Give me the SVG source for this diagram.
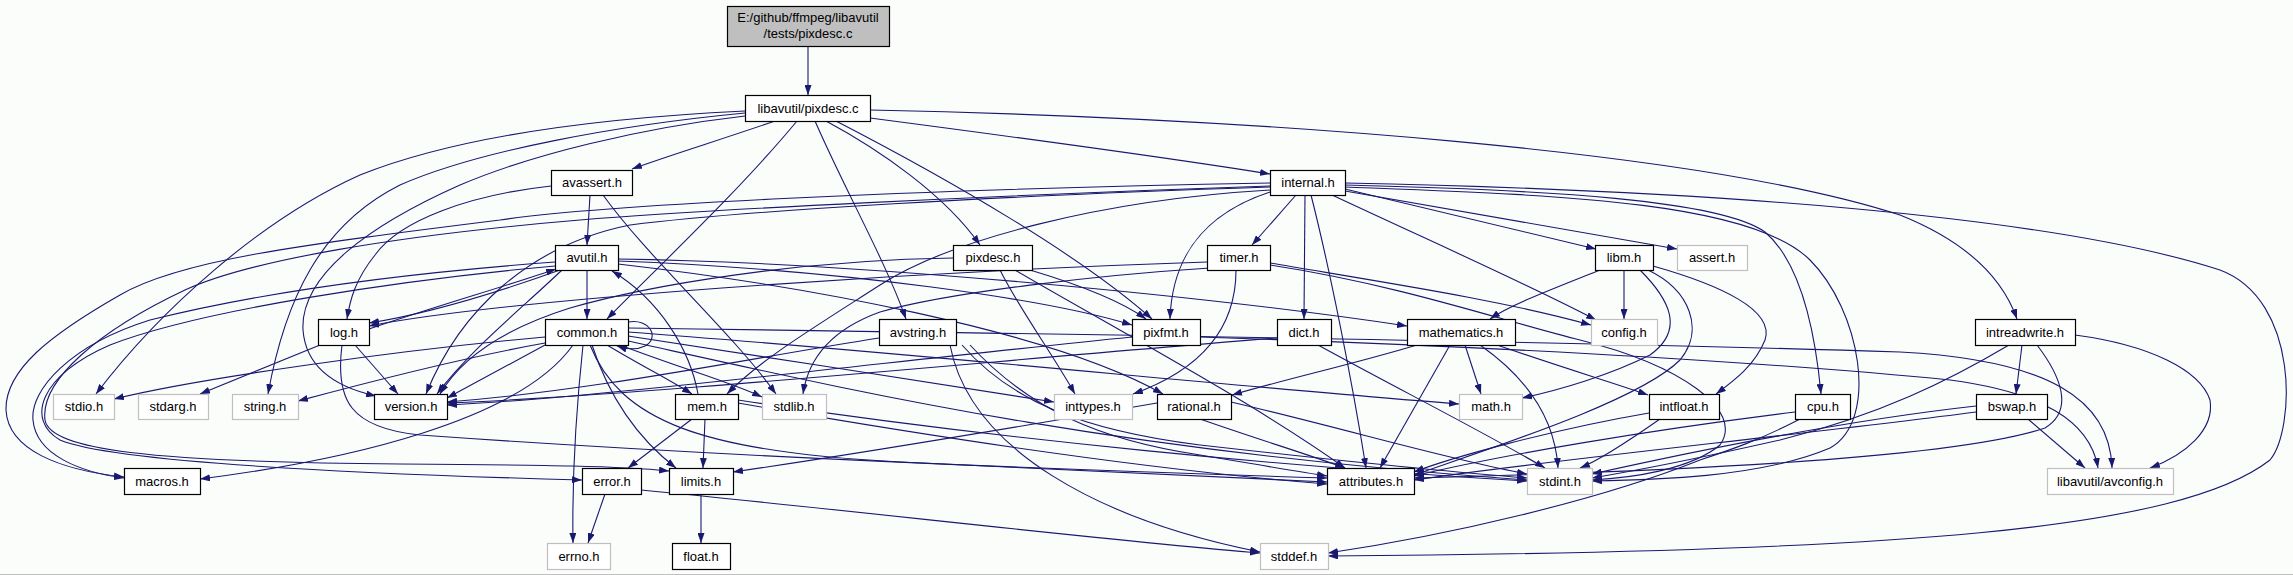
<svg xmlns="http://www.w3.org/2000/svg" width="2293" height="575" viewBox="0 0 2293 575">
<style>
.e{fill:none;stroke:#191970;stroke-width:1.1;marker-end:url(#a)}
.n rect{fill:#ffffff;stroke:#000000;stroke-width:1.2}
.g rect{fill:#ffffff;stroke:#bfbfbf;stroke-width:1.2}
.r rect{fill:#bfbfbf;stroke:#000000;stroke-width:1.2}
text{font-family:"Liberation Sans",Arial,sans-serif;font-size:13px;fill:#000;text-anchor:middle}
</style>
<defs>
<marker id="a" markerUnits="userSpaceOnUse" markerWidth="10" markerHeight="7" refX="10" refY="3.5" orient="auto" viewBox="0 0 10 7">
<path d="M0,0 L10,3.5 L0,7 z" fill="#191970"/>
</marker>
</defs>
<rect x="0" y="0" width="2293" height="575" fill="#fbfdfb"/>
<line x1="0" y1="574.5" x2="2293" y2="574.5" stroke="#c0c0c0" stroke-width="1"/>
<g id="edges">
<path class="e" d="M808,46 L808,95"/>
<path class="e" d="M745,111 C600,118 460,135 360,175 C260,220 160,310 96,394"/>
<path class="e" d="M745,113 C620,125 480,150 400,185 C320,225 285,300 268,394"/>
<path class="e" d="M775,121 C720,140 670,155 632,169"/>
<path class="e" d="M815,121 C845,190 885,260 906,319"/>
<path class="e" d="M797,121 C740,190 660,265 607,319"/>
<path class="e" d="M836,121 C950,180 1080,255 1152,319"/>
<path class="e" d="M826,121 C880,150 945,195 980,245"/>
<path class="e" d="M870,118 C1000,135 1150,155 1270,174"/>
<path class="e" d="M870,110 C1250,118 1700,150 1900,215 C1975,245 2005,285 2017,319"/>
<path class="e" d="M745,116 C640,128 530,155 460,185 C370,225 300,275 303,330 C306,370 340,388 376,396"/>
<path class="e" d="M603,195 C650,260 730,330 776,394"/>
<path class="e" d="M590,195 L587,245"/>
<path class="e" d="M551,186 C470,195 400,220 375,255 C355,280 350,300 347,319"/>
<path class="e" d="M587,270 L587,319"/>
<path class="e" d="M555,266 C400,280 200,310 110,345 C40,375 25,420 60,440 C120,465 400,475 582,480"/>
<path class="e" d="M618,264 C800,285 1050,330 1163,394"/>
<path class="e" d="M562,270 C520,310 470,350 437,394"/>
<path class="e" d="M555,262 C380,275 250,295 150,320 C70,345 30,390 33,420 C36,455 80,472 124,478"/>
<path class="e" d="M618,259 C850,262 1200,295 1407,326"/>
<path class="e" d="M560,270 C490,295 420,315 369,323"/>
<path class="e" d="M369,329 C440,305 510,285 556,269"/>
<path class="e" d="M618,261 C850,270 1050,300 1132,325"/>
<path class="e" d="M320,345 L200,394"/>
<path class="e" d="M355,345 L398,394"/>
<path class="e" d="M342,345 C335,400 350,428 420,435 C700,455 1000,468 1327,478"/>
<path class="e" d="M583,345 C575,420 572,480 573,543"/>
<path class="e" d="M628,336 C750,355 950,385 1054,402"/>
<path class="e" d="M592,345 C610,400 640,440 676,468"/>
<path class="e" d="M628,332 C900,352 1250,388 1459,404"/>
<path class="e" d="M628,341 C850,390 1100,450 1527,480"/>
<path class="e" d="M545,337 C400,350 200,378 114,399"/>
<path class="e" d="M620,345 C680,368 730,382 762,397"/>
<path class="e" d="M545,343 C450,360 350,387 298,401"/>
<path class="e" d="M590,345 C620,420 700,452 900,462 C1100,472 1250,478 1327,482"/>
<path class="e" d="M573,345 C520,420 350,460 200,479"/>
<path class="e" d="M545,345 L447,398"/>
<path class="e" d="M628,328 C1000,333 1600,342 1900,352 C2050,360 2110,400 2112,468"/>
<path class="e" d="M607,345 C640,365 670,380 692,394"/>
<path class="e" d="M628,322 C650,318 660,338 645,346 C637,350 626,349 617,346"/>
<path class="e" d="M705,419 L703,468"/>
<path class="e" d="M738,400 C1000,440 1300,468 1527,481"/>
<path class="e" d="M738,403 C950,440 1150,470 1327,484"/>
<path class="e" d="M692,419 L628,468"/>
<path class="e" d="M698,394 C690,350 660,300 612,271"/>
<path class="e" d="M605,494 L588,543"/>
<path class="e" d="M641,490 C850,510 1100,540 1260,553"/>
<path class="e" d="M701,494 L701,543"/>
<path class="e" d="M1015,270 C1100,320 1250,400 1345,468"/>
<path class="e" d="M1030,270 C1080,285 1120,300 1146,319"/>
<path class="e" d="M953,258 C800,260 650,285 570,308 C500,330 460,360 440,394"/>
<path class="e" d="M1000,270 C1020,310 1050,350 1075,394"/>
<path class="e" d="M1200,337 C1450,345 1750,360 1950,380 C2040,392 2090,420 2098,468"/>
<path class="e" d="M1132,337 C900,360 600,398 447,405"/>
<path class="e" d="M879,338 C750,358 600,390 447,402"/>
<path class="e" d="M950,345 C970,450 1100,520 1260,552"/>
<path class="e" d="M962,345 C1010,400 1080,430 1200,445 C1350,462 1450,472 1527,478"/>
<path class="e" d="M970,345 C1030,410 1100,440 1200,455 C1260,465 1300,472 1327,476"/>
<path class="e" d="M1270,186 C1000,195 700,210 580,220 C400,235 250,260 185,290 C100,330 40,380 45,420 C50,450 150,462 400,464 C550,465 620,466 669,471"/>
<path class="e" d="M1345,187 C1550,195 1750,200 1810,260 C1860,310 1880,420 1830,448 C1760,478 1650,480 1592,481"/>
<path class="e" d="M1345,183 C1700,190 2050,215 2220,270 C2300,300 2295,430 2270,460 C2180,530 1900,552 1328,556"/>
<path class="e" d="M1345,191 L1677,249"/>
<path class="e" d="M1332,195 C1450,250 1540,290 1596,320"/>
<path class="e" d="M1311,195 C1330,270 1352,380 1366,468"/>
<path class="e" d="M1296,195 L1252,245"/>
<path class="e" d="M1345,185 C1550,190 1720,200 1765,232 C1800,262 1815,330 1821,394"/>
<path class="e" d="M1305,195 L1304,319"/>
<path class="e" d="M1270,183 C900,190 600,205 500,220 C300,245 180,260 120,295 C50,335 5,370 6,410 C8,450 60,470 124,477"/>
<path class="e" d="M1270,190 C1100,200 950,240 880,285 C810,330 760,360 727,394"/>
<path class="e" d="M1270,192 C1200,215 1172,260 1170,319"/>
<path class="e" d="M1270,187 C1000,196 750,210 630,225 C530,245 460,310 426,394"/>
<path class="e" d="M1345,189 L1596,249"/>
<path class="e" d="M1210,268 C1100,275 950,292 880,312 C830,330 808,360 803,394"/>
<path class="e" d="M1236,270 C1236,330 1200,370 1133,394"/>
<path class="e" d="M1270,263 C1400,285 1500,300 1591,325"/>
<path class="e" d="M1207,262 C900,272 500,300 369,326"/>
<path class="e" d="M1270,265 C1400,285 1500,320 1580,340 C1680,365 1745,410 1720,445 C1690,470 1630,478 1592,480"/>
<path class="e" d="M1318,345 C1400,390 1480,430 1545,468"/>
<path class="e" d="M1277,338 C1000,360 650,395 447,403"/>
<path class="e" d="M1480,345 C1530,380 1555,420 1558,468"/>
<path class="e" d="M1465,345 L1481,394"/>
<path class="e" d="M1450,345 L1380,468"/>
<path class="e" d="M1417,345 C1350,365 1290,378 1232,395"/>
<path class="e" d="M1497,345 C1570,370 1620,385 1648,395"/>
<path class="e" d="M1231,402 C1350,430 1450,460 1527,474"/>
<path class="e" d="M1157,403 C1000,430 850,455 733,472"/>
<path class="e" d="M1200,419 C1260,440 1310,455 1345,468"/>
<path class="e" d="M1640,270 C1670,300 1685,330 1650,355 C1610,375 1560,390 1522,398"/>
<path class="e" d="M1624,270 L1624,319"/>
<path class="e" d="M1648,270 C1690,290 1705,330 1680,360 C1640,400 1500,445 1414,475"/>
<path class="e" d="M1653,266 C1720,285 1775,310 1765,340 C1755,365 1735,380 1716,394"/>
<path class="e" d="M1600,270 C1550,290 1510,305 1490,319"/>
<path class="e" d="M1660,419 C1630,440 1600,460 1580,468"/>
<path class="e" d="M1649,413 C1550,430 1450,458 1414,472"/>
<path class="e" d="M1795,412 C1650,430 1500,455 1414,476"/>
<path class="e" d="M1800,419 C1760,440 1730,450 1700,460 C1600,500 1450,535 1328,553"/>
<path class="e" d="M2009,345 C1950,380 1880,415 1780,440 C1700,458 1640,470 1592,478"/>
<path class="e" d="M2075,335 C2150,345 2200,370 2210,400 C2215,430 2185,455 2150,468"/>
<path class="e" d="M2022,345 L2016,394"/>
<path class="e" d="M2037,345 C2060,375 2075,410 2045,428 C1950,460 1650,472 1414,478"/>
<path class="e" d="M1976,406 C1850,420 1700,450 1592,474"/>
<path class="e" d="M2028,419 L2085,468"/>
<path class="e" d="M1976,412 C1800,435 1550,460 1414,480"/>
</g>
<g id="root" class="r"><rect x="727.5" y="6.5" width="162" height="40"/><text x="808" y="22">E:/github/ffmpeg/libavutil</text><text x="808" y="38">/tests/pixdesc.c</text></g>
<g id="pixdesc_c" class="n"><rect x="745.5" y="95.5" width="125" height="26"/><text x="808" y="113">libavutil/pixdesc.c</text></g>
<g id="avassert_h" class="n"><rect x="551.5" y="170.5" width="81" height="25"/><text x="592" y="187">avassert.h</text></g>
<g id="internal_h" class="n"><rect x="1270.5" y="170.5" width="75" height="25"/><text x="1308" y="187">internal.h</text></g>
<g id="avutil_h" class="n"><rect x="555.5" y="245.5" width="63" height="25"/><text x="587" y="262">avutil.h</text></g>
<g id="pixdesc_h" class="n"><rect x="953.5" y="245.5" width="79" height="25"/><text x="993" y="262">pixdesc.h</text></g>
<g id="timer_h" class="n"><rect x="1207.5" y="245.5" width="63" height="25"/><text x="1239" y="262">timer.h</text></g>
<g id="libm_h" class="n"><rect x="1595.5" y="245.5" width="58" height="25"/><text x="1624" y="262">libm.h</text></g>
<g id="assert_h" class="g"><rect x="1677.5" y="245.5" width="70" height="25"/><text x="1712" y="262">assert.h</text></g>
<g id="log_h" class="n"><rect x="318.5" y="319.5" width="51" height="26"/><text x="344" y="337">log.h</text></g>
<g id="common_h" class="n"><rect x="545.5" y="319.5" width="83" height="26"/><text x="587" y="337">common.h</text></g>
<g id="avstring_h" class="n"><rect x="879.5" y="319.5" width="77" height="26"/><text x="918" y="337">avstring.h</text></g>
<g id="pixfmt_h" class="n"><rect x="1132.5" y="319.5" width="68" height="26"/><text x="1166" y="337">pixfmt.h</text></g>
<g id="dict_h" class="n"><rect x="1277.5" y="319.5" width="54" height="26"/><text x="1304" y="337">dict.h</text></g>
<g id="mathematics_h" class="n"><rect x="1407.5" y="319.5" width="108" height="26"/><text x="1461" y="337">mathematics.h</text></g>
<g id="config_h" class="g"><rect x="1591.5" y="319.5" width="66" height="26"/><text x="1624" y="337">config.h</text></g>
<g id="intreadwrite_h" class="n"><rect x="1975.5" y="319.5" width="100" height="26"/><text x="2025" y="337">intreadwrite.h</text></g>
<g id="stdio_h" class="g"><rect x="53.5" y="394.5" width="61" height="25"/><text x="84" y="411">stdio.h</text></g>
<g id="stdarg_h" class="g"><rect x="138.5" y="394.5" width="70" height="25"/><text x="173" y="411">stdarg.h</text></g>
<g id="string_h" class="g"><rect x="232.5" y="394.5" width="66" height="25"/><text x="265" y="411">string.h</text></g>
<g id="version_h" class="n"><rect x="374.5" y="394.5" width="73" height="25"/><text x="411" y="411">version.h</text></g>
<g id="mem_h" class="n"><rect x="675.5" y="394.5" width="63" height="25"/><text x="707" y="411">mem.h</text></g>
<g id="stdlib_h" class="g"><rect x="762.5" y="394.5" width="64" height="25"/><text x="794" y="411">stdlib.h</text></g>
<g id="inttypes_h" class="g"><rect x="1054.5" y="394.5" width="78" height="25"/><text x="1093" y="411">inttypes.h</text></g>
<g id="rational_h" class="n"><rect x="1157.5" y="394.5" width="74" height="25"/><text x="1194" y="411">rational.h</text></g>
<g id="math_h" class="g"><rect x="1459.5" y="394.5" width="63" height="25"/><text x="1491" y="411">math.h</text></g>
<g id="intfloat_h" class="n"><rect x="1649.5" y="394.5" width="70" height="25"/><text x="1684" y="411">intfloat.h</text></g>
<g id="cpu_h" class="n"><rect x="1795.5" y="394.5" width="55" height="25"/><text x="1823" y="411">cpu.h</text></g>
<g id="bswap_h" class="n"><rect x="1976.5" y="394.5" width="71" height="25"/><text x="2012" y="411">bswap.h</text></g>
<g id="macros_h" class="n"><rect x="124.5" y="468.5" width="76" height="26"/><text x="162" y="486">macros.h</text></g>
<g id="error_h" class="n"><rect x="582.5" y="468.5" width="59" height="26"/><text x="612" y="486">error.h</text></g>
<g id="limits_h" class="n"><rect x="669.5" y="468.5" width="64" height="26"/><text x="701" y="486">limits.h</text></g>
<g id="attributes_h" class="n"><rect x="1327.5" y="468.5" width="87" height="26"/><text x="1371" y="486">attributes.h</text></g>
<g id="stdint_h" class="g"><rect x="1527.5" y="468.5" width="65" height="26"/><text x="1560" y="486">stdint.h</text></g>
<g id="avconfig_h" class="g"><rect x="2047.5" y="468.5" width="126" height="26"/><text x="2110" y="486">libavutil/avconfig.h</text></g>
<g id="errno_h" class="g"><rect x="547.5" y="543.5" width="63" height="26"/><text x="579" y="561">errno.h</text></g>
<g id="float_h" class="n"><rect x="672.5" y="543.5" width="58" height="26"/><text x="701" y="561">float.h</text></g>
<g id="stddef_h" class="g"><rect x="1260.5" y="543.5" width="68" height="26"/><text x="1294" y="561">stddef.h</text></g>
</svg>
